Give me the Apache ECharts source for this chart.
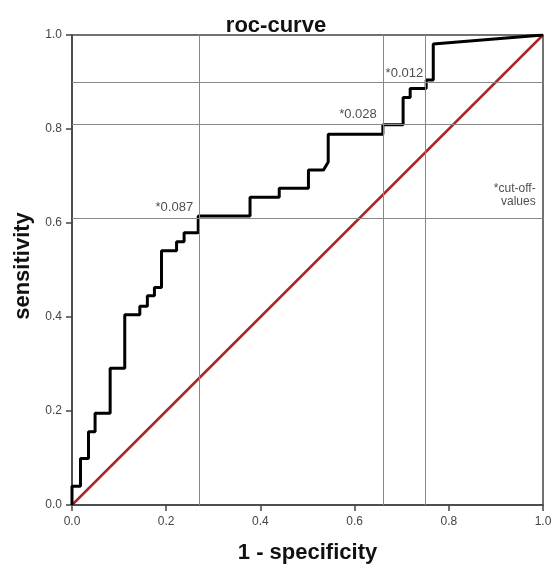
<!DOCTYPE html>
<html>
<head>
<meta charset="utf-8">
<script src="https://cdn.jsdelivr.net/npm/echarts@6/dist/echarts.min.js"></script>
<style>
  html, body { margin: 0; padding: 0; background: #fff; }
  #chart { width: 553px; height: 565px; }
</style>
</head>
<body>
<div id="chart"></div>
<script>
// ROC curve corner points (1 - specificity, sensitivity)
const fpr = [0, 0, 0.018, 0.018, 0.035, 0.035, 0.049, 0.049, 0.081, 0.081, 0.112, 0.112,
  0.144, 0.144, 0.160, 0.160, 0.175, 0.175, 0.190, 0.190, 0.222, 0.222, 0.238, 0.238,
  0.268, 0.268, 0.378, 0.378, 0.440, 0.440, 0.502, 0.502, 0.534, 0.544, 0.544, 0.660,
  0.660, 0.703, 0.703, 0.718, 0.718, 0.752, 0.752, 0.767, 0.767, 1.0];
const tpr = [0, 0.040, 0.040, 0.099, 0.099, 0.156, 0.156, 0.195, 0.195, 0.291, 0.291, 0.405,
  0.405, 0.423, 0.423, 0.445, 0.445, 0.463, 0.463, 0.541, 0.541, 0.560, 0.560, 0.579,
  0.579, 0.615, 0.615, 0.655, 0.655, 0.674, 0.674, 0.713, 0.713, 0.730, 0.789, 0.789,
  0.809, 0.809, 0.867, 0.867, 0.886, 0.886, 0.904, 0.904, 0.981, 1.0];

// cut-off points (reference lines) and their labels
const cutX = [0.272, 0.662, 0.752];
const cutY = [0.611, 0.81, 0.902];
const cutLabels = ['*0.087', '*0.028', '*0.012'];
const noteText = '*cut-off-\nvalues';

const tickLabels = ['0.0', '0.2', '0.4', '0.6', '0.8', '1.0'];

const chart = echarts.init(document.getElementById('chart'));
const font = 'Liberation Sans, Arial, sans-serif';

function axis(extra) {
  return Object.assign({
    type: 'value',
    min: 0,
    max: 1,
    interval: 0.2,
    axisLine: { show: true, lineStyle: { color: '#444', width: 1.5 } },
    axisTick: { show: true, inside: false, length: 6, lineStyle: { color: '#444', width: 1.5 } },
    splitLine: { show: false },
    nameLocation: 'middle',
    nameTextStyle: { color: '#111', fontFamily: font, fontWeight: 'bold', fontSize: 22 }
  }, extra);
}

const labelStyle = { color: '#444', fontFamily: font, fontSize: 12, formatter: v => tickLabels[Math.round(v * 5)] };

const option = {
  animation: false,
  title: {
    text: 'roc-curve',
    left: 271,
    top: 10,
    textAlign: 'center',
    textStyle: { fontFamily: font, fontWeight: 'bold', fontSize: 22, color: '#111' }
  },
  grid: {
    left: 72, right: 10, top: 35, bottom: 60,
    containLabel: false,
    outerBoundsMode: 'none',
    show: true, borderColor: '#444', borderWidth: 1.5, backgroundColor: 'transparent'
  },
  xAxis: axis({
    name: '1 - specificity', nameGap: 37,
    axisLabel: Object.assign({ margin: 11 }, labelStyle)
  }),
  yAxis: axis({
    name: 'sensitivity', nameGap: 38,
    nameTextStyle: { color: '#111', fontFamily: font, fontWeight: 'bold', fontSize: 22, padding: [0, 0, 0, 8] },
    axisLabel: Object.assign({ margin: 10 }, labelStyle)
  }),
  series: [
    {
      type: 'line',
      silent: true,
      symbol: 'none',
      data: [],
      markLine: {
        symbol: 'none',
        silent: true,
        label: { show: false },
        lineStyle: { color: '#888', width: 1, type: 'solid' },
        data: cutX.map(v => ({ xAxis: v })).concat(cutY.map(v => ({ yAxis: v })))
      }
    },
    {
      type: 'line',
      symbol: 'none',
      data: [[0, 0], [1, 1]],
      lineStyle: { color: '#a8282a', width: 2.5 }
    },
    {
      type: 'line',
      symbol: 'none',
      data: fpr.map((x, i) => [x, tpr[i]]),
      lineStyle: { color: '#000', width: 3 }
    },
    {
      type: 'scatter',
      symbolSize: 0,
      data: cutX.map((x, i) => ({
        value: [x, cutY[i]],
        label: { formatter: cutLabels[i], offset: i === 2 ? [2, -8] : [-2, -10] }
      })),
      label: {
        show: true,
        position: 'left',
        color: '#222',
        fontFamily: font,
        fontSize: 13,
        align: 'right'
      }
    },
    {
      type: 'scatter',
      symbolSize: 0,
      data: [{ value: [0.995, 0.66], label: { formatter: noteText } }],
      label: {
        show: true,
        position: 'left',
        color: '#222',
        fontFamily: font,
        fontSize: 12,
        align: 'right',
        lineHeight: 13
      }
    }
  ]
};

chart.setOption(option);
</script>
</body>
</html>
